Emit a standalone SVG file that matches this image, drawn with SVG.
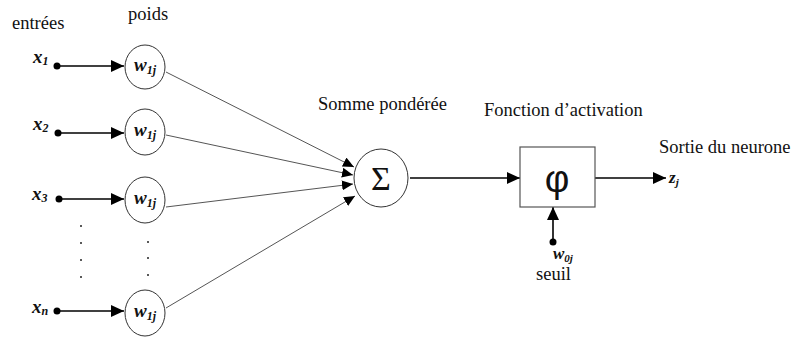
<svg xmlns="http://www.w3.org/2000/svg" width="792" height="338" viewBox="0 0 792 338">
<style>
.lbl{font-family:'Liberation Serif',serif;font-size:18.5px;fill:#111}
.var{font-family:'Liberation Serif',serif;font-weight:bold;font-style:italic;fill:#111}
.node{fill:#fff;stroke:#333;stroke-width:1}
.thin{stroke:#555;stroke-width:1;fill:none}
.thick{stroke:#000;stroke-width:1.6;fill:none}
.dot{fill:#000}
.dots{fill:#222}
</style>
<defs>
<marker id="big" markerUnits="userSpaceOnUse" markerWidth="14" markerHeight="12" refX="13" refY="6" orient="auto">
<path d="M0,0 L13,6 L0,12 Z" fill="#000"/>
</marker>
<marker id="small" markerUnits="userSpaceOnUse" markerWidth="12" markerHeight="10" refX="11" refY="5" orient="auto">
<path d="M0,0 L11,5 L0,10 Z" fill="#000"/>
</marker>
</defs>
<rect width="792" height="338" fill="#fff"/>

<text class="lbl" x="12" y="29">entrées</text>
<text class="lbl" x="128" y="20">poids</text>
<text class="lbl" x="318" y="110">Somme pondérée</text>
<text class="lbl" x="484" y="116">Fonction d’activation</text>
<text class="lbl" x="659" y="153">Sortie du neurone</text>

<g id="connectors">
<line class="thick" x1="57" y1="66" x2="124" y2="66" marker-end="url(#big)"/>
<line class="thick" x1="58" y1="133" x2="124" y2="133" marker-end="url(#big)"/>
<line class="thick" x1="59" y1="199" x2="124" y2="199" marker-end="url(#big)"/>
<line class="thick" x1="57" y1="311" x2="124" y2="311" marker-end="url(#big)"/>
<line class="thin" x1="166" y1="72" x2="354" y2="167" marker-end="url(#small)"/>
<line class="thin" x1="166" y1="135" x2="353" y2="175" marker-end="url(#small)"/>
<line class="thin" x1="166" y1="207" x2="353" y2="184" marker-end="url(#small)"/>
<line class="thin" x1="166" y1="308" x2="355" y2="196" marker-end="url(#small)"/>
<line class="thick" x1="410" y1="178" x2="520" y2="178" marker-end="url(#big)"/>
<line class="thick" x1="595" y1="178" x2="666" y2="178" marker-end="url(#big)"/>
<line class="thick" x1="553" y1="242" x2="553" y2="207" marker-end="url(#big)"/>
</g>

<g id="input-x1">
<circle class="dot" cx="57" cy="66" r="3.5"/>
<text class="var" x="33" y="63" font-size="19">x<tspan font-size="12" dy="2">1</tspan></text>
</g>
<g id="input-x2">
<circle class="dot" cx="58" cy="133" r="3.5"/>
<text class="var" x="33" y="130" font-size="19">x<tspan font-size="12" dy="2">2</tspan></text>
</g>
<g id="input-x3">
<circle class="dot" cx="59" cy="199" r="3.5"/>
<text class="var" x="32" y="200" font-size="19">x<tspan font-size="12" dy="2">3</tspan></text>
</g>
<g id="input-xn">
<circle class="dot" cx="57" cy="311" r="3.5"/>
<text class="var" x="32" y="313" font-size="19">x<tspan font-size="12" dy="2">n</tspan></text>
</g>

<g id="ellipsis">
<circle class="dots" cx="81" cy="226" r="1"/>
<circle class="dots" cx="81" cy="243" r="1"/>
<circle class="dots" cx="81" cy="260" r="1"/>
<circle class="dots" cx="81" cy="277" r="1"/>
<circle class="dots" cx="148" cy="242" r="1"/>
<circle class="dots" cx="148" cy="258" r="1"/>
<circle class="dots" cx="148" cy="275" r="1"/>
</g>

<g id="weight-1">
<ellipse class="node" cx="145" cy="67" rx="20" ry="22"/>
<text class="var" x="134" y="71" font-size="19">w<tspan font-size="12" dy="3">1j</tspan></text>
</g>
<g id="weight-2">
<ellipse class="node" cx="145" cy="132" rx="20" ry="23"/>
<text class="var" x="134" y="136" font-size="19">w<tspan font-size="12" dy="3">1j</tspan></text>
</g>
<g id="weight-3">
<ellipse class="node" cx="145" cy="200" rx="20" ry="23"/>
<text class="var" x="134" y="204" font-size="19">w<tspan font-size="12" dy="3">1j</tspan></text>
</g>
<g id="weight-n">
<ellipse class="node" cx="145" cy="313" rx="20" ry="23"/>
<text class="var" x="134" y="317" font-size="19">w<tspan font-size="12" dy="3">1j</tspan></text>
</g>

<g id="sum">
<ellipse class="node" cx="381" cy="178" rx="27" ry="29"/>
<text x="381" y="190" text-anchor="middle" font-family="'Liberation Serif', serif" font-size="34" fill="#111">Σ</text>
</g>

<g id="activation">
<rect x="520" y="147" width="75" height="60" fill="#fff" stroke="#555" stroke-width="1.2"/>
<text x="557" y="192" text-anchor="middle" font-family="'Liberation Sans', sans-serif" font-size="38" fill="#111">φ</text>
</g>

<g id="output">
<text class="var" x="669" y="183" font-size="17">z<tspan font-size="11" dy="3">j</tspan></text>
</g>

<g id="threshold">
<circle class="dot" cx="553" cy="242" r="3.5"/>
<text class="var" x="553" y="259" font-size="17">w<tspan font-size="11" dy="3">0j</tspan></text>
<text class="lbl" x="536" y="280">seuil</text>
</g>
</svg>
